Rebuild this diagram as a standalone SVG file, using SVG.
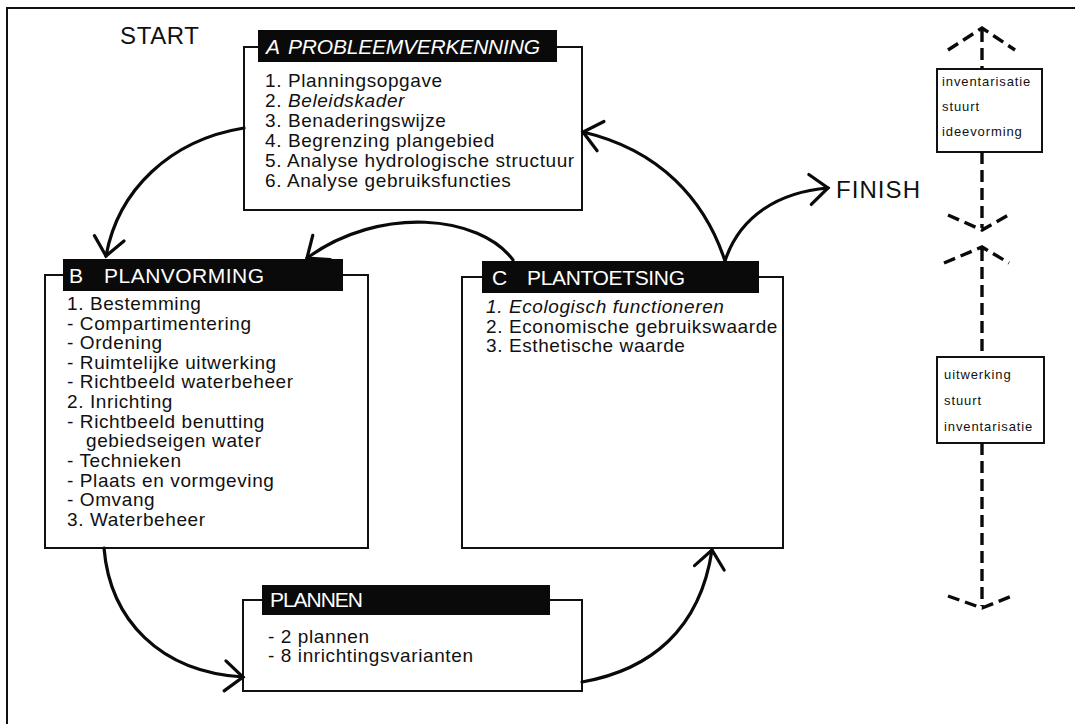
<svg xmlns="http://www.w3.org/2000/svg" width="1075" height="724" viewBox="0 0 1075 724">
<style>
text{font-family:"Liberation Sans",Arial,sans-serif;fill:#111}
.t{font-size:19px;letter-spacing:0.6px}
.it{font-style:italic}
.h{font-size:21px;fill:#fff}
.s{font-size:13px;letter-spacing:0.9px}
.big{font-size:24px}
.box{fill:#fff;stroke:#111;stroke-width:2}
.hdr{fill:#0a0a0a}
.arc{fill:none;stroke:#0a0a0a;stroke-width:3.2;stroke-linecap:round}
.dash{fill:none;stroke:#0a0a0a;stroke-width:3.4;stroke-dasharray:12 6}
.frame{stroke:#111;stroke-width:2;fill:none}
</style>
<defs>
<marker id="ah" markerUnits="userSpaceOnUse" viewBox="-24 -18 28 36" refX="0" refY="0" markerWidth="28" markerHeight="36" orient="auto">
<path d="M-18,-15 L0,0 L-18,15" fill="none" stroke="#0a0a0a" stroke-width="3.2" stroke-linecap="round" stroke-linejoin="miter"/>
</marker>
</defs>
<rect width="1075" height="724" fill="#fff"/>
<path class="frame" d="M7,724 V8 H1075"/>
<text class="big" x="120" y="44" textLength="79">START</text>
<text class="big" x="836" y="198" textLength="84">FINISH</text>

<g id="nodeA">
<rect class="box" x="244" y="47" width="338" height="163"/>
<rect class="hdr" x="258" y="30" width="299" height="32"/>
<text class="h it" x="266" y="54">A</text>
<text class="h it" x="288" y="54" textLength="252">PROBLEEMVERKENNING</text>
<text class="t" x="265" y="87">1. Planningsopgave</text>
<text class="t" x="265" y="107">2. <tspan class="it">Beleidskader</tspan></text>
<text class="t" x="265" y="127">3. Benaderingswijze</text>
<text class="t" x="265" y="147">4. Begrenzing plangebied</text>
<text class="t" x="265" y="167">5. Analyse hydrologische structuur</text>
<text class="t" x="265" y="187">6. Analyse gebruiksfuncties</text>
</g>

<g id="nodeB">
<rect class="box" x="45" y="275" width="323" height="273"/>
<rect class="hdr" x="63" y="259" width="280" height="32"/>
<text class="h" x="69" y="283">B</text>
<text class="h" x="104" y="283" textLength="160">PLANVORMING</text>
<text class="t" x="67" y="310">1. Bestemming</text>
<text class="t" x="67" y="330">- Compartimentering</text>
<text class="t" x="67" y="349">- Ordening</text>
<text class="t" x="67" y="369">- Ruimtelijke uitwerking</text>
<text class="t" x="67" y="388">- Richtbeeld waterbeheer</text>
<text class="t" x="67" y="408">2. Inrichting</text>
<text class="t" x="67" y="428">- Richtbeeld benutting</text>
<text class="t" x="86" y="447">gebiedseigen water</text>
<text class="t" x="67" y="467">- Technieken</text>
<text class="t" x="67" y="487">- Plaats en vormgeving</text>
<text class="t" x="67" y="506">- Omvang</text>
<text class="t" x="67" y="526">3. Waterbeheer</text>
</g>

<g id="nodeC">
<rect class="box" x="462" y="277" width="321" height="271"/>
<rect class="hdr" x="482" y="261" width="277" height="32"/>
<text class="h" x="492" y="285">C</text>
<text class="h" x="527" y="285" textLength="158">PLANTOETSING</text>
<text class="t it" x="486" y="313">1. Ecologisch functioneren</text>
<text class="t" x="486" y="333">2. Economische gebruikswaarde</text>
<text class="t" x="486" y="352">3. Esthetische waarde</text>
</g>

<g id="nodePlannen">
<rect class="box" x="243" y="600" width="339" height="91"/>
<rect class="hdr" x="262" y="585" width="288" height="30"/>
<text class="h" x="270" y="607" textLength="93">PLANNEN</text>
<text class="t" x="268" y="643">- 2 plannen</text>
<text class="t" x="268" y="662">- 8 inrichtingsvarianten</text>
</g>

<g id="legend1">
<rect class="box" x="937" y="69" width="105" height="83"/>
<text class="s" x="942" y="86">inventarisatie</text>
<text class="s" x="942" y="111">stuurt</text>
<text class="s" x="942" y="136">ideevorming</text>
</g>
<g id="legend2">
<rect class="box" x="937" y="357" width="107" height="86"/>
<text class="s" x="944" y="379">uitwerking</text>
<text class="s" x="944" y="405">stuurt</text>
<text class="s" x="944" y="431">inventarisatie</text>
</g>

<g id="connectors">
<path class="arc" d="M244,128 C170,140 118,190 106,256" marker-end="url(#ah)"/>
<path class="arc" d="M513,260 C480,215 380,205 307,258" marker-end="url(#ah)"/>
<path class="arc" d="M104,548 C110,620 160,672 243,677" marker-end="url(#ah)"/>
<path class="arc" d="M582,682 C650,670 700,630 712,550" marker-end="url(#ah)"/>
<path class="arc" d="M725,261 C705,200 660,150 583,132" marker-end="url(#ah)"/>
<path class="arc" d="M725,261 C740,215 780,192 828,188" marker-end="url(#ah)"/>
<path class="dash" d="M982,30 V69 M982,152 V228 M948,50 L982,28 L1015,50 M948,215 L982,230 L1012,213"/>
<path class="dash" d="M982,249 V357 M982,443 V606 M944,263 L982,247 L1009,263 M948,596 L982,608 L1012,596"/>
</g>
</svg>
